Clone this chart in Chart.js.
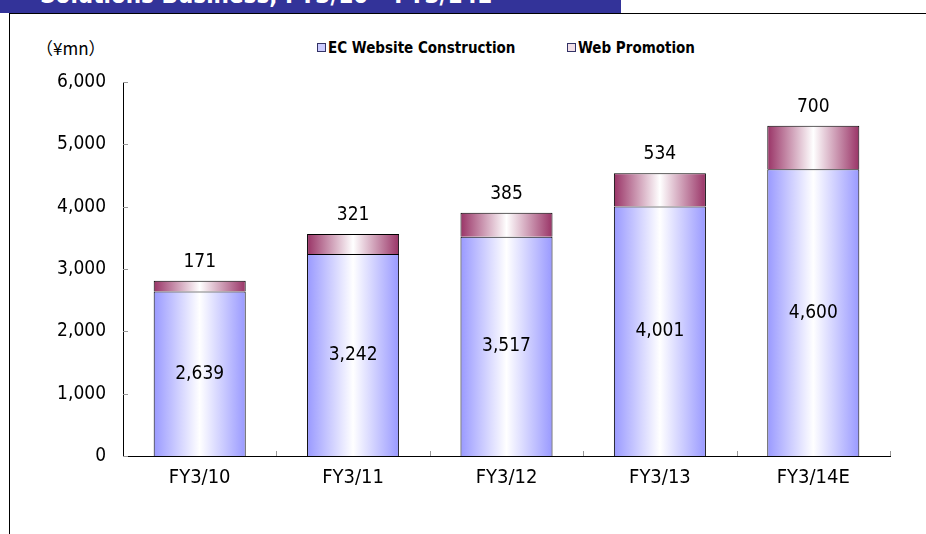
<!DOCTYPE html>
<html>
<head>
<meta charset="utf-8">
<script src="https://cdn.jsdelivr.net/npm/chart.js@4.4.0/dist/chart.umd.min.js"></script>
<style>
  html, body { margin: 0; padding: 0; background: #fff; }
  body { width: 926px; height: 534px; position: relative; overflow: hidden;
         font-family: "DejaVu Sans Condensed", "Liberation Sans", sans-serif; }
  .hdr { position: absolute; left: 0; top: 0; width: 621px; height: 13px; background: #333399; overflow: hidden; }
  .hdr span { position: absolute; left: 40px; bottom: 6px; color: #fff; font-weight: bold; font-size: 24px;
              line-height: 1; white-space: nowrap; }
  .frame { position: absolute; left: 9px; top: 13px; right: -5px; bottom: -5px;
           border-top: 1px solid #000; border-left: 1px solid #000; }
  .unit { position: absolute; left: 36px; top: 35px; font-size: 17px; color: #000;
          font-family: "Noto Sans CJK JP", sans-serif; }
  .lg { position: absolute; top: 39px; font-size: 15px; font-weight: bold; color: #000; white-space: nowrap; }
  .lg i { display: inline-block; width: 7px; height: 7px; border: 1px solid #333366; margin-right: 2px; vertical-align: 1px; }
  canvas { position: absolute; left: 0; top: 0; }
</style>
</head>
<body>
<div class="hdr"><span>Solutions Business, FY3/10 – FY3/14E</span></div>
<div class="frame"></div>
<div class="unit">（¥mn）</div>
<div class="lg" style="left:317px"><i style="background:#ccccff"></i>EC Website Construction</div>
<div class="lg" style="left:567px"><i style="background:#f2e0e8"></i>Web Promotion</div>
<canvas id="c" width="926" height="534"></canvas>
<script>
const FONT = '"DejaVu Sans Condensed", "Liberation Sans", sans-serif';

const categories = ['FY3/10', 'FY3/11', 'FY3/12', 'FY3/13', 'FY3/14E'];
const ecWebsite = [2639, 3242, 3517, 4001, 4600];
const webPromotion = [171, 321, 385, 534, 700];
const yMax = 6000;
const yStep = 1000;

const BAR_PCT = 0.6;

// horizontal "cylinder" fill: edge colour -> white -> edge colour
function barGradient(edge) {
  return c => {
    const x = c.chart.scales.x;
    if (!x || !x.width || c.dataIndex == null) return edge;
    const cx = x.getPixelForValue(c.dataIndex);
    const half = x.width / categories.length * BAR_PCT / 2;
    const g = c.chart.ctx.createLinearGradient(cx - half, 0, cx + half, 0);
    g.addColorStop(0, edge);
    g.addColorStop(0.5, '#ffffff');
    g.addColorStop(1, edge);
    return g;
  };
}

const valueLabels = {
  id: 'valueLabels',
  afterDatasetsDraw(chart) {
    const ctx = chart.ctx;
    ctx.save();
    ctx.font = '19px ' + FONT;
    ctx.fillStyle = '#000';
    ctx.textAlign = 'center';
    ctx.textBaseline = 'middle';
    chart.getDatasetMeta(0).data.forEach((b, i) => {
      ctx.fillText(ecWebsite[i].toLocaleString('en-US'), b.x, (b.y + b.base) / 2);
    });
    chart.getDatasetMeta(1).data.forEach((b, i) => {
      ctx.fillText(webPromotion[i].toLocaleString('en-US'), b.x, b.y - 19);
    });
    ctx.restore();
  }
};

// short grey ticks pointing into the plot
const innerTicks = {
  id: 'innerTicks',
  afterDraw(chart) {
    const { ctx, scales: { x, y } } = chart;
    ctx.save();
    ctx.strokeStyle = '#999';
    ctx.lineWidth = 1;
    ctx.beginPath();
    y.ticks.forEach(t => {
      const py = Math.round(y.getPixelForValue(t.value)) + 0.5;
      ctx.moveTo(y.right, py);
      ctx.lineTo(y.right + 5, py);
    });
    const step = x.width / categories.length;
    categories.forEach((_, i) => {
      const px = Math.round(x.getPixelForValue(i) + step / 2) + 0.5;
      ctx.moveTo(px, x.top);
      ctx.lineTo(px, x.top - 5);
    });
    ctx.stroke();
    ctx.restore();
  }
};

new Chart(document.getElementById('c'), {
  type: 'bar',
  data: {
    labels: categories,
    datasets: [
      { label: 'EC Website Construction', data: ecWebsite, backgroundColor: barGradient('#9999ff'),
        borderColor: '#000', borderWidth: 1, barPercentage: BAR_PCT, categoryPercentage: 1 },
      { label: 'Web Promotion', data: webPromotion, backgroundColor: barGradient('#993366'),
        borderColor: '#000', borderWidth: 1, barPercentage: BAR_PCT, categoryPercentage: 1 }
    ]
  },
  options: {
    responsive: false,
    devicePixelRatio: 1,
    animation: false,
    events: [],
    layout: { padding: { left: 30, top: 82, right: 36, bottom: 38 } },
    plugins: { legend: { display: false }, tooltip: { enabled: false } },
    scales: {
      x: {
        stacked: true,
        grid: { display: false, drawTicks: false },
        border: { color: '#000', width: 1 },
        ticks: { color: '#000', font: { family: FONT, size: 20 }, padding: 10, maxRotation: 0 },
        afterFit: s => { s.height = 40; }
      },
      y: {
        stacked: true,
        min: 0, max: yMax,
        grid: { display: false, drawTicks: false },
        border: { color: '#000', width: 1 },
        ticks: { stepSize: yStep, color: '#000', font: { family: FONT, size: 19 }, padding: 17,
                 callback: v => v.toLocaleString('en-US') },
        afterFit: s => { s.width = 93; }
      }
    }
  },
  plugins: [valueLabels, innerTicks]
});
</script>
</body>
</html>
